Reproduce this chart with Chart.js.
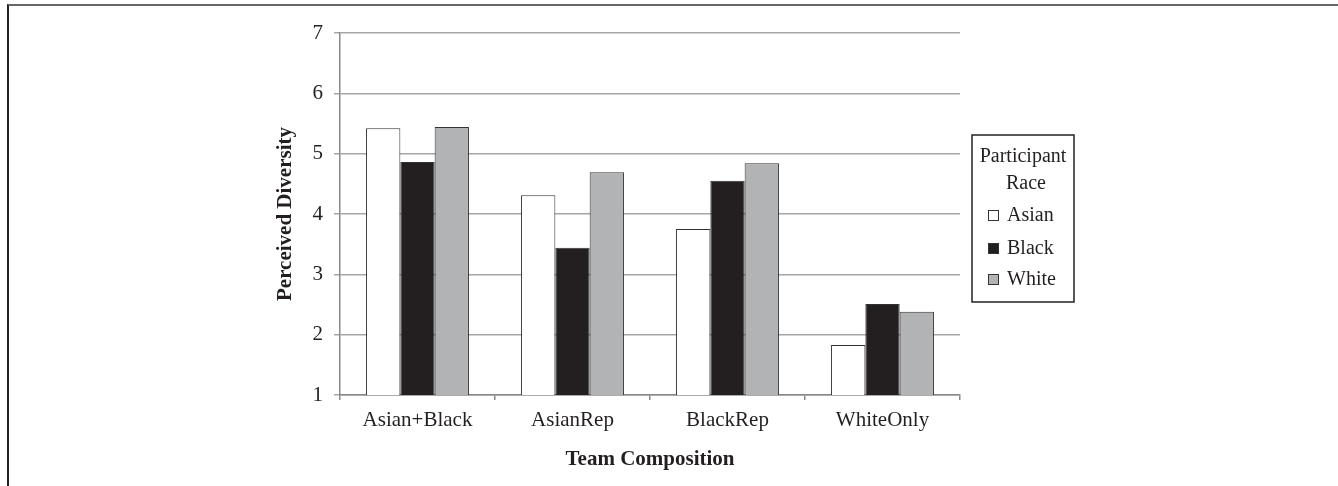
<!DOCTYPE html>
<html>
<head>
<meta charset="utf-8">
<script src="https://cdn.jsdelivr.net/npm/chart.js@4"></script>
<style>
  html, body { margin: 0; padding: 0; background: #fff; }
  #wrap { position: relative; width: 1338px; height: 486px; overflow: hidden; }
  #frame { position: absolute; left: 7px; top: 4px; right: -10px; bottom: -10px;
           border-top: 2px solid #666; border-left: 2px solid #222; }
  canvas { position: absolute; left: 0; top: 0; }
</style>
</head>
<body>
<div id="wrap">
  <div id="frame"></div>
  <canvas id="c" width="1338" height="486"></canvas>
</div>
<script>
const categories = ["Asian+Black", "AsianRep", "BlackRep", "WhiteOnly"];
const seriesNames = ["Asian", "Black", "White"];
const asianValues = [5.42, 4.31, 3.75, 1.83];
const blackValues = [4.86, 3.44, 4.55, 2.51];
const whiteValues = [5.44, 4.69, 4.84, 2.38];
const yTickValues = [1, 2, 3, 4, 5, 6, 7];
const legendTitle = ["Participant", "Race"];
const xTitle = "Team Composition";
const yTitle = "Perceived Diversity";

const FONT = "'Liberation Serif', 'Times New Roman', serif";
const fills = ["#ffffff", "#231f20", "#b2b3b5"];

const legendPlugin = {
  id: 'boxLegend',
  afterDraw(chart) {
    const ctx = chart.ctx;
    const ca = chart.chartArea;
    const x0 = ca.right + 12, y0 = 135, w = 102, h = 167;
    ctx.save();
    ctx.strokeStyle = "#222";
    ctx.lineWidth = 1.5;
    ctx.strokeRect(x0, y0, w, h);
    ctx.fillStyle = "#231f20";
    ctx.font = "20px " + FONT;
    ctx.textBaseline = "middle";
    ctx.textAlign = "center";
    ctx.fillText(legendTitle[0], x0 + w / 2, 157);
    ctx.fillText(legendTitle[1], x0 + w / 2 + 3, 184);
    ctx.textAlign = "left";
    const ys = [215, 248, 279];
    chart.data.datasets.forEach((ds, i) => {
      const y = ys[i];
      ctx.fillStyle = ds.backgroundColor;
      ctx.fillRect(x0 + 16, y - 5, 10, 10);
      ctx.strokeStyle = "#333";
      ctx.lineWidth = 1;
      ctx.strokeRect(x0 + 16.5, y - 4.5, 10, 10);
      ctx.fillStyle = "#231f20";
      ctx.fillText(ds.label, x0 + 35, y + 1);
    });
    ctx.restore();
  }
};

const ds = [asianValues, blackValues, whiteValues].map((vals, i) => ({
  label: seriesNames[i],
  data: vals,
  backgroundColor: fills[i],
  borderColor: "#333",
  borderWidth: 1,
  borderSkipped: 'start',
  categoryPercentage: 0.664,
  barPercentage: 1.0
}));

new Chart(document.getElementById('c'), {
  type: 'bar',
  data: { labels: categories, datasets: ds },
  options: {
    responsive: false,
    animation: false,
    devicePixelRatio: 1,
    layout: { padding: { left: 273, right: 378, top: 33, bottom: 14 } },
    plugins: { legend: { display: false }, tooltip: { enabled: false } },
    scales: {
      x: {
        grid: { display: true, drawOnChartArea: false, drawTicks: true, tickLength: 5, color: "#888", lineWidth: 1.5 },
        border: { display: true, color: "#888", width: 1.5 },
        ticks: { font: { family: FONT, size: 21 }, color: "#231f20", padding: 8 },
        title: { display: true, text: xTitle, font: { family: FONT, size: 21, weight: 'bold' }, color: "#231f20", padding: 0 },
        afterFit(scale) { scale.height = 77; }
      },
      y: {
        min: 1, max: 7,
        afterBuildTicks(scale) { scale.ticks = yTickValues.map(v => ({ value: v })); },
        grid: { color: "#a6a6a6", lineWidth: 1.5, drawTicks: true, tickLength: 6 },
        border: { display: true, color: "#888", width: 1.5 },
        ticks: { font: { family: FONT, size: 21 }, color: "#231f20", padding: 11 },
        title: { display: true, text: yTitle, font: { family: FONT, size: 21, weight: 'bold' }, color: "#231f20", padding: 0 },
        afterFit(scale) { scale.width = 67; }
      }
    }
  },
  plugins: [legendPlugin]
});
</script>
</body>
</html>
